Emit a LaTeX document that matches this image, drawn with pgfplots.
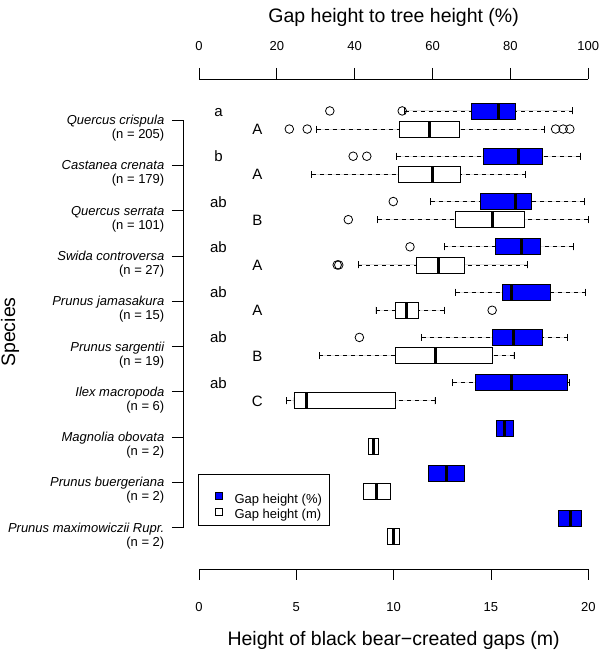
\documentclass[border=0pt]{standalone}
\usepackage{fontspec}
\setmainfont{Liberation Sans}
\usepackage{pgfplots}
\pgfplotsset{compat=1.18}
\usepgfplotslibrary{statistics}

\definecolor{rblue}{HTML}{0000FF}
\newcommand\fs{\fontsize{13}{14}\selectfont}
\newcommand\fl{\fontsize{19.5}{23}\selectfont}
\newcommand\fa{\fontsize{15}{17}\selectfont}
\newcommand\lab[2]{\begin{tabular}[t]{@{}r@{}}\itshape #1\\(n = #2)\end{tabular}}
\tikzset{grp/.style={font=\fa, anchor=base, inner sep=0pt, yshift=-5.5pt}}

\pgfplotsset{
  /pgfplots/boxplot/draw/whisker/.code 2 args={%
    \draw[black, line width=0.8pt, dash pattern=on 4pt off 4pt] (boxplot cs:#2) -- (boxplot cs:#1);
    \draw[black, line width=0.8pt] (boxplot whisker cs:#2,0) -- (boxplot whisker cs:#2,1);
    \draw[black, line width=0.8pt] (boxplot whisker cs:#1,0) -- (boxplot whisker cs:#1,1);
  },
  bx/.style={
    boxplot/box extend=0.353,
    boxplot/whisker extend=0.155,
    boxplot/every median/.style={line width=3pt},
    draw=black, line width=0.8pt, solid, forget plot,
    mark=o, mark size=4.3pt,
    mark options={solid, draw=black, fill=none, line width=0.8pt},
  },
  frame/.style={
    scale only axis, width=389.3pt, height=490pt,
    ymin=0.088, ymax=10.905, ytick=\empty,
    at={(199pt,82pt)}, anchor=south west,
    axis y line=none,
    tick align=outside, major tick length=11pt,
    every tick/.style={black, line width=0.8pt},
    axis line style={black, line width=0.8pt, -},
    /pgf/number format/assume math mode=true,
    tick label style={font=\fs},
    clip=false,
  },
}

\begin{document}
\begin{tikzpicture}
\useasboundingbox (0,0) rectangle (600pt,651pt);

% bottom axis: gap height in metres
\begin{axis}[frame,
  xmin=0, xmax=20, axis x line*=bottom, xtick={0,5,...,20},
  xticklabel style={anchor=base, yshift=-31.2pt},
  xlabel={Height of black bear−created gaps (m)},
  xlabel style={at={(axis description cs:0.5,0)}, anchor=base, yshift=-76pt, font=\fl},
  legend style={at={(axis description cs:-0.0018,0.1933)}, anchor=north west,
    draw=black, line width=0.8pt, font=\fs, inner xsep=3pt, inner ysep=2pt,
    row sep=0pt, column sep=6.9pt,
    nodes={inner xsep=4.6pt, inner ysep=1.8pt, text height=9.2pt, text depth=2.8pt}},
  legend cell align=left,
  legend image code/.code={\path (0pt,0pt); \draw[#1, line width=0.8pt] (13.7pt,0.6pt) rectangle ++(6.8pt,6.8pt);},
]
\addlegendimage{empty legend}\addlegendentry{}
\addlegendimage{draw=black, fill=rblue}\addlegendentry{Gap height (\%)}
\addlegendimage{draw=black, fill=white}\addlegendentry{Gap height (m)}

\addplot[bx, fill=white, boxplot prepared={draw position=9.8,
  lower whisker=6.04, lower quartile=10.29, median=11.86, upper quartile=13.37, upper whisker=17.77}]
  table[row sep=\\, y index=0] {v\\ 4.64\\ 5.56\\ 18.32\\ 18.71\\ 19.05\\};
\addplot[bx, fill=white, boxplot prepared={draw position=8.8,
  lower whisker=5.79, lower quartile=10.24, median=11.98, upper quartile=13.44, upper whisker=16.79}]
  coordinates {};
\addplot[bx, fill=white, boxplot prepared={draw position=7.8,
  lower whisker=9.18, lower quartile=13.18, median=15.08, upper quartile=16.71, upper whisker=20.0}]
  table[row sep=\\, y index=0] {v\\ 7.67\\};
\addplot[bx, fill=white, boxplot prepared={draw position=6.8,
  lower whisker=8.18, lower quartile=11.18, median=12.29, upper quartile=13.66, upper whisker=16.88}]
  table[row sep=\\, y index=0] {v\\ 7.10\\ 7.18\\};
\addplot[bx, fill=white, boxplot prepared={draw position=5.8,
  lower whisker=9.09, lower quartile=10.10, median=10.67, upper quartile=11.26, upper whisker=12.60}]
  table[row sep=\\, y index=0] {v\\ 15.06\\};
\addplot[bx, fill=white, boxplot prepared={draw position=4.8,
  lower whisker=6.18, lower quartile=10.07, median=12.17, upper quartile=15.08, upper whisker=16.18}]
  coordinates {};
\addplot[bx, fill=white, boxplot prepared={draw position=3.8,
  lower whisker=4.50, lower quartile=4.88, median=5.53, upper quartile=10.08, upper whisker=12.12}]
  coordinates {};
\addplot[bx, fill=white, boxplot prepared={draw position=2.8,
  lower whisker=8.70, lower quartile=8.70, median=8.97, upper quartile=9.24, upper whisker=9.24}]
  coordinates {};
\addplot[bx, fill=white, boxplot prepared={draw position=1.8,
  lower whisker=8.47, lower quartile=8.47, median=9.14, upper quartile=9.81, upper whisker=9.81}]
  coordinates {};
\addplot[bx, fill=white, boxplot prepared={draw position=0.8,
  lower whisker=9.67, lower quartile=9.67, median=10.0, upper quartile=10.30, upper whisker=10.30}]
  coordinates {};

% group letters
\node[grp] at (axis cs:1,10.2) {a};  \node[grp] at (axis cs:3,9.8) {A};
\node[grp] at (axis cs:1,9.2)  {b};  \node[grp] at (axis cs:3,8.8) {A};
\node[grp] at (axis cs:1,8.2)  {ab}; \node[grp] at (axis cs:3,7.8) {B};
\node[grp] at (axis cs:1,7.2)  {ab}; \node[grp] at (axis cs:3,6.8) {A};
\node[grp] at (axis cs:1,6.2)  {ab}; \node[grp] at (axis cs:3,5.8) {A};
\node[grp] at (axis cs:1,5.2)  {ab}; \node[grp] at (axis cs:3,4.8) {B};
\node[grp] at (axis cs:1,4.2)  {ab}; \node[grp] at (axis cs:3,3.8) {C};
\end{axis}

% top axis: gap height relative to tree height
\begin{axis}[frame,
  xmin=0, xmax=100, axis x line*=top, xtick={0,20,...,100},
  xticklabel style={anchor=base, yshift=17.2pt},
  xlabel={Gap height to tree height (\%)},
  xlabel style={at={(axis description cs:0.5,1)}, anchor=base, yshift=56pt, font=\fl},
]
\addplot[bx, fill=rblue, boxplot prepared={draw position=10.2,
  lower whisker=52.8, lower quartile=70.0, median=76.9, upper quartile=81.4, upper whisker=96.0}]
  table[row sep=\\, y index=0] {v\\ 33.6\\ 52.2\\};
\addplot[bx, fill=rblue, boxplot prepared={draw position=9.2,
  lower whisker=50.8, lower quartile=73.0, median=82.0, upper quartile=88.3, upper whisker=97.9}]
  table[row sep=\\, y index=0] {v\\ 39.6\\ 43.1\\};
\addplot[bx, fill=rblue, boxplot prepared={draw position=8.2,
  lower whisker=59.5, lower quartile=72.2, median=81.3, upper quartile=85.5, upper whisker=99.0}]
  table[row sep=\\, y index=0] {v\\ 49.9\\};
\addplot[bx, fill=rblue, boxplot prepared={draw position=7.2,
  lower whisker=63.0, lower quartile=76.2, median=82.9, upper quartile=87.6, upper whisker=96.1}]
  table[row sep=\\, y index=0] {v\\ 54.2\\};
\addplot[bx, fill=rblue, boxplot prepared={draw position=6.2,
  lower whisker=65.9, lower quartile=78.0, median=80.3, upper quartile=90.2, upper whisker=99.3}]
  coordinates {};
\addplot[bx, fill=rblue, boxplot prepared={draw position=5.2,
  lower whisker=57.2, lower quartile=75.3, median=80.7, upper quartile=88.3, upper whisker=94.7}]
  table[row sep=\\, y index=0] {v\\ 41.2\\};
\addplot[bx, fill=rblue, boxplot prepared={draw position=4.2,
  lower whisker=65.2, lower quartile=70.9, median=80.3, upper quartile=94.6, upper whisker=95.1}]
  coordinates {};
\addplot[bx, fill=rblue, boxplot prepared={draw position=3.2,
  lower whisker=76.3, lower quartile=76.3, median=78.4, upper quartile=80.7, upper whisker=80.7}]
  coordinates {};
\addplot[bx, fill=rblue, boxplot prepared={draw position=2.2,
  lower whisker=58.9, lower quartile=58.9, median=63.6, upper quartile=68.1, upper whisker=68.1}]
  coordinates {};
\addplot[bx, fill=rblue, boxplot prepared={draw position=1.2,
  lower whisker=92.3, lower quartile=92.3, median=95.3, upper quartile=98.3, upper whisker=98.3}]
  coordinates {};
\end{axis}

% species axis
\begin{axis}[
  scale only axis, width=10pt, height=407.7pt,
  at={(183pt,123.3pt)}, anchor=south west,
  xmin=0, xmax=1, ymin=1, ymax=10,
  axis x line=none, axis y line*=left,
  axis line style={black, line width=0.8pt, -},
  tick align=outside, major tick length=11pt,
  every tick/.style={black, line width=0.8pt},
  ytick={1,...,10},
  yticklabels={
    {\lab{Prunus maximowiczii Rupr.}{2}},
    {\lab{Prunus buergeriana}{2}},
    {\lab{Magnolia obovata}{2}},
    {\lab{Ilex macropoda}{6}},
    {\lab{Prunus sargentii}{19}},
    {\lab{Prunus jamasakura}{15}},
    {\lab{Swida controversa}{27}},
    {\lab{Quercus serrata}{101}},
    {\lab{Castanea crenata}{179}},
    {\lab{Quercus crispula}{205}}},
  yticklabel style={font=\fs, anchor=base east, inner sep=0pt, xshift=-7.5pt, yshift=-4.5pt},
  ylabel={Species},
  ylabel style={at={(axis description cs:0,0.48)}, anchor=center, yshift=173pt, font=\fl},
]
\end{axis}
\end{tikzpicture}
\end{document}
